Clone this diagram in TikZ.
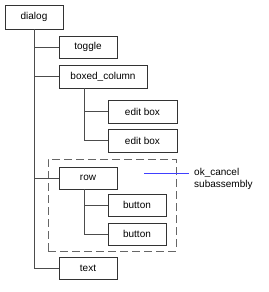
\documentclass[tikz,border=0pt]{standalone}
\usepackage{fontspec}
\setmainfont{Liberation Sans}
\usetikzlibrary{positioning, calc}
\tikzset{
  item/.style={draw=black!80, line width=0.9pt, minimum width=58pt, minimum height=22pt,
               inner sep=0pt, font=\fontsize{10}{11}\selectfont},
  wire/.style={draw=black!70, line width=1pt},
  group/.style={draw=black!60, line width=0.9pt, dash pattern=on 8pt off 4pt},
  callout/.style={draw=blue!75, line width=0.6pt},
}
\begin{document}
\begin{tikzpicture}[x=1pt, y=-1pt]
\useasboundingbox (0,0) rectangle (268,292);

% subassembly frame
\node[group, minimum width=128pt, minimum height=92pt] (sub) at (112,205) {};

\node[item, minimum height=24pt] (dialog) at (34,17) {dialog};
\node[item] (toggle) at (88,47) {toggle};
\node[item, minimum width=88pt, minimum height=23pt] (boxedcol) at (103,76.5) {boxed\_column};
\node[item, minimum width=69pt, minimum height=23pt] (editA) at (142.5,111.5) {edit box};
\node[item, minimum width=69pt, minimum height=23pt] (editB) at (142.5,140.5) {edit box};
\node[item] (row) at (88,178) {row};
\node[item] (btnA) at (137,205) {button};
\node[item] (btnB) at (137,234) {button};
\node[item] (text) at (88,268) {text};

\node[anchor=west, align=left, inner sep=0pt, font=\fontsize{10}{12}\selectfont] (lbl) at (194,179)
  {ok\_cancel\\subassembly};
\coordinate (okc) at (144,173);

% tree connectors
\draw[wire] (dialog.south) |- (text.west);
\draw[wire] (dialog.south |- toggle.west) -- (toggle.west);
\draw[wire] (dialog.south |- boxedcol.west) -- (boxedcol.west);
\draw[wire] (dialog.south |- row.west) -- (row.west);
\draw[wire] ([xshift=26pt]boxedcol.south west) |- (editB.west);
\draw[wire] ([xshift=26pt]boxedcol.south west |- editA.west) -- (editA.west);
\draw[wire] ([xshift=26pt]row.south west) |- (btnB.west);
\draw[wire] ([xshift=26pt]row.south west |- btnA.west) -- (btnA.west);

\draw[callout] (okc) -- ([xshift=-5pt]okc -| lbl.west);
\end{tikzpicture}
\end{document}
